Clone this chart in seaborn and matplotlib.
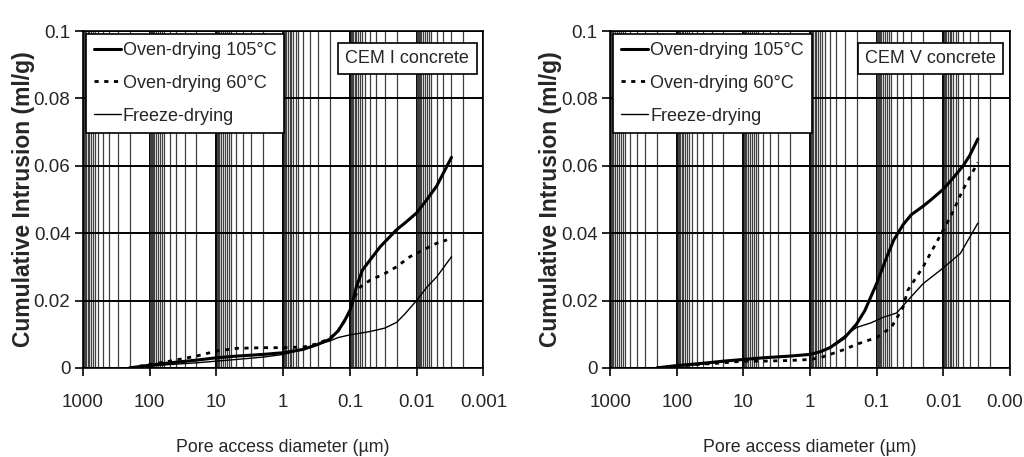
import numpy as np
import pandas as pd
import seaborn as sns
import matplotlib
matplotlib.use("Agg")
import matplotlib.pyplot as plt
from matplotlib.ticker import LogLocator, FixedLocator, FixedFormatter

# CEM I concrete
cem1_d_105 = [200, 100, 50, 20, 10, 5, 2, 1, 0.5, 0.3, 0.2, 0.15, 0.12, 0.1, 0.09, 0.08,
              0.065, 0.05, 0.035, 0.02, 0.015, 0.01, 0.007, 0.005, 0.003]
cem1_y_105 = [0, 0.0008, 0.0015, 0.0023, 0.003, 0.0035, 0.004, 0.0045, 0.0055, 0.007, 0.0085,
              0.011, 0.014, 0.017, 0.020, 0.024, 0.029, 0.032, 0.036, 0.041, 0.043, 0.046,
              0.050, 0.054, 0.0625]
cem1_d_60 = [200, 100, 50, 20, 10, 5, 2, 1, 0.5, 0.3, 0.2, 0.15, 0.12, 0.1, 0.09, 0.08, 0.07,
             0.05, 0.03, 0.02, 0.0126, 0.008, 0.005, 0.0035]
cem1_y_60 = [0, 0.001, 0.002, 0.0035, 0.005, 0.0058, 0.006, 0.006, 0.0062, 0.0072, 0.0088,
             0.011, 0.014, 0.017, 0.0195, 0.022, 0.024, 0.026, 0.028, 0.030, 0.033, 0.035,
             0.037, 0.038]
cem1_d_fd = [200, 100, 50, 20, 10, 5, 2, 1, 0.5, 0.3, 0.2, 0.15, 0.1, 0.07, 0.05, 0.03, 0.02,
             0.015, 0.01, 0.007, 0.005, 0.003]
cem1_y_fd = [0, 0.0005, 0.001, 0.0015, 0.002, 0.0025, 0.0032, 0.004, 0.0055, 0.007, 0.008,
             0.009, 0.0098, 0.0103, 0.0108, 0.0118, 0.0135, 0.016, 0.020, 0.024, 0.027, 0.033]

# CEM V concrete
cem5_d_105 = [200, 100, 50, 20, 10, 5, 2, 1, 0.7, 0.5, 0.3, 0.2, 0.15, 0.1, 0.07, 0.055,
              0.04, 0.03, 0.02, 0.015, 0.01, 0.007, 0.005, 0.004, 0.003]
cem5_y_105 = [0, 0.0007, 0.0012, 0.002, 0.0025, 0.003, 0.0035, 0.004, 0.0048, 0.006, 0.009,
              0.013, 0.017, 0.025, 0.033, 0.038, 0.0425, 0.0455, 0.048, 0.050, 0.053,
              0.0565, 0.060, 0.063, 0.068]
cem5_d_60 = [200, 100, 50, 20, 10, 5, 2, 1, 0.7, 0.5, 0.3, 0.2, 0.1, 0.06, 0.04, 0.034, 0.02,
             0.012, 0.0077, 0.005, 0.003]
cem5_y_60 = [0, 0.0005, 0.001, 0.0015, 0.002, 0.002, 0.0022, 0.0025, 0.003, 0.004, 0.0055,
             0.007, 0.009, 0.012, 0.018, 0.023, 0.030, 0.038, 0.045, 0.053, 0.061]
cem5_d_fd = [200, 100, 50, 20, 10, 5, 2, 1, 0.7, 0.5, 0.3, 0.2, 0.12, 0.08, 0.05, 0.034,
             0.02, 0.011, 0.0055, 0.003]
cem5_y_fd = [0, 0.0005, 0.001, 0.0018, 0.0025, 0.003, 0.0035, 0.004, 0.0048, 0.0062, 0.0095,
             0.012, 0.0134, 0.015, 0.0163, 0.020, 0.025, 0.029, 0.034, 0.043]

series_labels = ["Oven-drying 105°C", "Oven-drying 60°C", "Freeze-drying"]
panel_titles = ["CEM I concrete", "CEM V concrete"]
x_ticks = [1000, 100, 10, 1, 0.1, 0.01, 0.001]
x_ticklabels = ["1000", "100", "10", "1", "0.1", "0.01", "0.001"]
y_ticks = [0, 0.02, 0.04, 0.06, 0.08, 0.1]
y_ticklabels = ["0", "0.02", "0.04", "0.06", "0.08", "0.1"]

sns.set_style("white")
plt.rcParams['font.family'] = ['Liberation Sans', 'DejaVu Sans']

fig = plt.figure(figsize=(10.24, 4.57), dpi=100)
ax1 = fig.add_axes([0.081, 0.195, 0.391, 0.737])
ax2 = fig.add_axes([0.596, 0.195, 0.390, 0.737])

panels = [
    (ax1, [(cem1_d_105, cem1_y_105), (cem1_d_60, cem1_y_60), (cem1_d_fd, cem1_y_fd)]),
    (ax2, [(cem5_d_105, cem5_y_105), (cem5_d_60, cem5_y_60), (cem5_d_fd, cem5_y_fd)]),
]
styles = [dict(lw=2.2, ls="-"), dict(lw=2.0, ls=(0, (1.5, 2))), dict(lw=1.0, ls="-")]

for (ax, data), title in zip(panels, panel_titles):
    for (d, v), lab, st in zip(data, series_labels, styles):
        df = pd.DataFrame({"d": d, "v": v})
        sns.lineplot(data=df, x="d", y="v", ax=ax, color="black", label=lab,
                     linewidth=st["lw"], linestyle=st["ls"], sort=False, zorder=5)
    ax.set_xscale("log")
    ax.set_xlim(1000, 0.001)
    ax.set_ylim(0, 0.1)
    ax.xaxis.set_major_locator(FixedLocator(x_ticks))
    ax.xaxis.set_major_formatter(FixedFormatter(x_ticklabels))
    subs = [2, 3, 4, 5, 6, 6.5, 7, 7.5, 8, 8.5, 9, 9.25, 9.5, 9.75]
    ax.xaxis.set_minor_locator(LogLocator(base=10, subs=subs, numticks=100))
    ax.set_yticks(y_ticks)
    ax.set_yticklabels(y_ticklabels)
    ax.grid(which="major", axis="both", color="black", lw=1.4)
    ax.grid(which="minor", axis="x", color="0.25", lw=0.9)
    ax.tick_params(axis="both", which="major", direction="out", length=6, width=1.2,
                   color="black", labelsize=13.5, bottom=True, left=True)
    ax.tick_params(axis="x", which="major", pad=13)
    ax.tick_params(axis="y", which="major", pad=3)
    ax.tick_params(axis="x", which="minor", length=0)
    for s in ax.spines.values():
        s.set_color("black")
        s.set_linewidth(1.2)
    ax.set_xlabel("Pore access diameter (µm)", fontsize=12.75, labelpad=20)
    ax.set_ylabel("Cumulative Intrusion (ml/g)", fontsize=16.5, fontweight="bold", labelpad=-1)
    leg = ax.legend(loc="upper left", fontsize=13, frameon=True, fancybox=False,
                    edgecolor="black", framealpha=1, handlelength=1.5, handletextpad=0.1,
                    labelspacing=0.88, borderpad=0.45, borderaxespad=0.15)
    leg.get_frame().set_linewidth(1.2)
    leg.set_zorder(10)
    ax.text(0.965, 0.918, title, transform=ax.transAxes, ha="right", va="center",
            fontsize=13, zorder=10,
            bbox=dict(boxstyle="square,pad=0.4", fc="white", ec="black", lw=1.2))

fig.savefig("out.png", dpi=100)
